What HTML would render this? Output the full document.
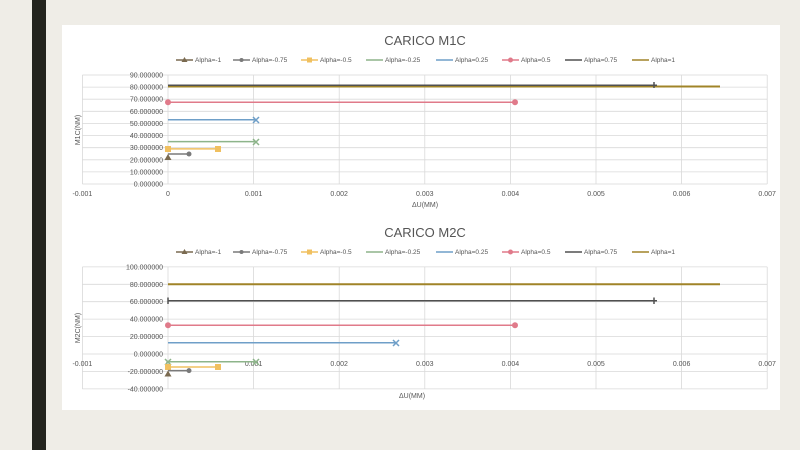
<!DOCTYPE html>
<html><head><meta charset="utf-8"><style>
html,body{margin:0;padding:0;width:800px;height:450px;overflow:hidden;background:#efede7;}
svg{display:block;font-family:"Liberation Sans",sans-serif;}
</style></head><body>
<svg width="800" height="450" viewBox="0 0 800 450">
<rect x="0" y="0" width="800" height="450" fill="#efede7"/>
<rect x="32" y="0" width="14" height="450" fill="#23241e"/>
<rect x="62" y="25" width="718" height="385" fill="#ffffff"/>

<!-- Chart 1 -->
<text x="425" y="45" font-size="13" text-anchor="middle" fill="#555">CARICO M1C</text>
<g font-size="6.5" fill="#555">
<line x1="176" y1="60" x2="193" y2="60" stroke="#7a6a50" stroke-width="1.5"/><path d="M184.5 57 l3 5 h-6z" fill="#7a6a50"/><text x="195" y="62">Alpha=-1</text>
<line x1="233" y1="60" x2="250" y2="60" stroke="#7a7a7a" stroke-width="1.5"/><circle cx="241.5" cy="60" r="2" fill="#7a7a7a"/><text x="252" y="62">Alpha=-0.75</text>
<line x1="301" y1="60" x2="318" y2="60" stroke="#f0c060" stroke-width="1.5"/><rect x="307" y="57.5" width="5" height="5" fill="#f0c060"/><text x="320" y="62">Alpha=-0.5</text>
<line x1="366" y1="60" x2="383" y2="60" stroke="#8db48a" stroke-width="1.5"/><text x="385" y="62">Alpha=-0.25</text>
<line x1="436" y1="60" x2="453" y2="60" stroke="#6f9fc8" stroke-width="1.5"/><text x="455" y="62">Alpha=0.25</text>
<line x1="502" y1="60" x2="519" y2="60" stroke="#e07a8a" stroke-width="1.5"/><circle cx="510.5" cy="60" r="2.5" fill="#e07a8a"/><text x="521" y="62">Alpha=0.5</text>
<line x1="565" y1="60" x2="582" y2="60" stroke="#505050" stroke-width="1.5"/><text x="584" y="62">Alpha=0.75</text>
<line x1="632" y1="60" x2="649" y2="60" stroke="#a08428" stroke-width="1.5"/><text x="651" y="62">Alpha=1</text>
</g>
<g stroke="#d9d9d9" stroke-width="0.8">
<line x1="82.4" y1="75" x2="767.2" y2="75"/><line x1="82.4" y1="87.1" x2="767.2" y2="87.1"/><line x1="82.4" y1="99.2" x2="767.2" y2="99.2"/><line x1="82.4" y1="111.3" x2="767.2" y2="111.3"/><line x1="82.4" y1="123.5" x2="767.2" y2="123.5"/><line x1="82.4" y1="135.6" x2="767.2" y2="135.6"/><line x1="82.4" y1="147.7" x2="767.2" y2="147.7"/><line x1="82.4" y1="159.8" x2="767.2" y2="159.8"/><line x1="82.4" y1="171.9" x2="767.2" y2="171.9"/><line x1="82.4" y1="184" x2="767.2" y2="184"/>
<line x1="82.4" y1="75" x2="82.4" y2="184"/><line x1="168" y1="75" x2="168" y2="184"/><line x1="253.6" y1="75" x2="253.6" y2="184"/><line x1="339.2" y1="75" x2="339.2" y2="184"/><line x1="424.8" y1="75" x2="424.8" y2="184"/><line x1="510.4" y1="75" x2="510.4" y2="184"/><line x1="596" y1="75" x2="596" y2="184"/><line x1="681.6" y1="75" x2="681.6" y2="184"/><line x1="767.2" y1="75" x2="767.2" y2="184"/>
</g>
<g font-size="7" fill="#555" text-anchor="end">
<text x="163" y="77.5">90.000000</text><text x="163" y="89.6">80.000000</text><text x="163" y="101.7">70.000000</text><text x="163" y="113.8">60.000000</text><text x="163" y="126">50.000000</text><text x="163" y="138.1">40.000000</text><text x="163" y="150.2">30.000000</text><text x="163" y="162.3">20.000000</text><text x="163" y="174.4">10.000000</text><text x="163" y="186.5">0.000000</text>
</g>
<g font-size="7" fill="#555" text-anchor="middle">
<text x="82.4" y="196">-0.001</text><text x="168" y="196">0</text><text x="253.6" y="196">0.001</text><text x="339.2" y="196">0.002</text><text x="424.8" y="196">0.003</text><text x="510.4" y="196">0.004</text><text x="596" y="196">0.005</text><text x="681.6" y="196">0.006</text><text x="767.2" y="196">0.007</text>
<text x="425" y="207">ΔU(MM)</text>
<text transform="translate(80,130) rotate(-90)">M1C(NM)</text>
</g>
<g stroke-width="1.5">
<line x1="168" y1="86.5" x2="720" y2="86.5" stroke="#a08428" stroke-width="2"/>
<line x1="168" y1="85.3" x2="654" y2="85.3" stroke="#505050"/><path d="M654 82v6M651 85.3h6" stroke="#505050"/>
<line x1="168" y1="102.3" x2="515" y2="102.3" stroke="#e07a8a"/><circle cx="168" cy="102.3" r="3" fill="#e07a8a"/><circle cx="515" cy="102.3" r="3" fill="#e07a8a"/>
<line x1="168" y1="119.8" x2="256" y2="119.8" stroke="#6f9fc8"/><path d="M253 117l6 6M259 117l-6 6" stroke="#6f9fc8"/>
<line x1="168" y1="141.6" x2="256" y2="141.6" stroke="#8db48a"/><path d="M253 139l6 6M259 139l-6 6" stroke="#8db48a"/>
<line x1="168" y1="148.9" x2="218" y2="148.9" stroke="#f0c060"/><rect x="165" y="146" width="6" height="6" fill="#f0c060"/><rect x="215" y="146" width="6" height="6" fill="#f0c060"/>
<line x1="168" y1="154" x2="189" y2="154" stroke="#7a7a7a"/><circle cx="189" cy="154" r="2.5" fill="#7a7a7a"/>
<path d="M168 154 l3.5 6 h-7z" fill="#7a6a50"/>
</g>

<!-- Chart 2 -->
<text x="425" y="237" font-size="13" text-anchor="middle" fill="#555">CARICO M2C</text>
<g font-size="6.5" fill="#555">
<line x1="176" y1="252" x2="193" y2="252" stroke="#7a6a50" stroke-width="1.5"/><path d="M184.5 249 l3 5 h-6z" fill="#7a6a50"/><text x="195" y="254">Alpha=-1</text>
<line x1="233" y1="252" x2="250" y2="252" stroke="#7a7a7a" stroke-width="1.5"/><circle cx="241.5" cy="252" r="2" fill="#7a7a7a"/><text x="252" y="254">Alpha=-0.75</text>
<line x1="301" y1="252" x2="318" y2="252" stroke="#f0c060" stroke-width="1.5"/><rect x="307" y="249.5" width="5" height="5" fill="#f0c060"/><text x="320" y="254">Alpha=-0.5</text>
<line x1="366" y1="252" x2="383" y2="252" stroke="#8db48a" stroke-width="1.5"/><text x="385" y="254">Alpha=-0.25</text>
<line x1="436" y1="252" x2="453" y2="252" stroke="#6f9fc8" stroke-width="1.5"/><text x="455" y="254">Alpha=0.25</text>
<line x1="502" y1="252" x2="519" y2="252" stroke="#e07a8a" stroke-width="1.5"/><circle cx="510.5" cy="252" r="2.5" fill="#e07a8a"/><text x="521" y="254">Alpha=0.5</text>
<line x1="565" y1="252" x2="582" y2="252" stroke="#505050" stroke-width="1.5"/><text x="584" y="254">Alpha=0.75</text>
<line x1="632" y1="252" x2="649" y2="252" stroke="#a08428" stroke-width="1.5"/><text x="651" y="254">Alpha=1</text>
</g>
<g stroke="#d9d9d9" stroke-width="0.8">
<line x1="82.4" y1="266.9" x2="767.2" y2="266.9"/><line x1="82.4" y1="284.3" x2="767.2" y2="284.3"/><line x1="82.4" y1="301.7" x2="767.2" y2="301.7"/><line x1="82.4" y1="319.1" x2="767.2" y2="319.1"/><line x1="82.4" y1="336.6" x2="767.2" y2="336.6"/><line x1="82.4" y1="354" x2="767.2" y2="354"/><line x1="82.4" y1="371.4" x2="767.2" y2="371.4"/><line x1="82.4" y1="388.9" x2="767.2" y2="388.9"/>
<line x1="82.4" y1="266.9" x2="82.4" y2="388.9"/><line x1="168" y1="266.9" x2="168" y2="388.9"/><line x1="253.6" y1="266.9" x2="253.6" y2="388.9"/><line x1="339.2" y1="266.9" x2="339.2" y2="388.9"/><line x1="424.8" y1="266.9" x2="424.8" y2="388.9"/><line x1="510.4" y1="266.9" x2="510.4" y2="388.9"/><line x1="596" y1="266.9" x2="596" y2="388.9"/><line x1="681.6" y1="266.9" x2="681.6" y2="388.9"/><line x1="767.2" y1="266.9" x2="767.2" y2="388.9"/>
</g>
<g font-size="7" fill="#555" text-anchor="end">
<text x="163" y="269.4">100.000000</text><text x="163" y="286.8">80.000000</text><text x="163" y="304.2">60.000000</text><text x="163" y="321.6">40.000000</text><text x="163" y="339.1">20.000000</text><text x="163" y="356.5">0.000000</text><text x="163" y="373.9">-20.000000</text><text x="163" y="391.4">-40.000000</text>
</g>
<g font-size="7" fill="#555" text-anchor="middle">
<text x="82.4" y="366">-0.001</text><text x="168" y="366">0</text><text x="253.6" y="366">0.001</text><text x="339.2" y="366">0.002</text><text x="424.8" y="366">0.003</text><text x="510.4" y="366">0.004</text><text x="596" y="366">0.005</text><text x="681.6" y="366">0.006</text><text x="767.2" y="366">0.007</text>
<text x="412" y="398">ΔU(MM)</text>
<text transform="translate(80,328) rotate(-90)">M2C(NM)</text>
</g>
<g stroke-width="1.5">
<line x1="168" y1="284.3" x2="720" y2="284.3" stroke="#a08428" stroke-width="2"/>
<line x1="168" y1="300.8" x2="654" y2="300.8" stroke="#505050"/><path d="M654 297.5v6.5M651 300.8h6M168 297.5v6.5" stroke="#505050"/>
<line x1="168" y1="325.2" x2="515" y2="325.2" stroke="#e07a8a"/><circle cx="168" cy="325.2" r="3" fill="#e07a8a"/><circle cx="515" cy="325.2" r="3" fill="#e07a8a"/>
<line x1="168" y1="342.7" x2="396" y2="342.7" stroke="#6f9fc8"/><path d="M393 340l6 6M399 340l-6 6" stroke="#6f9fc8"/>
<line x1="168" y1="361.8" x2="256" y2="361.8" stroke="#8db48a"/><path d="M253 359l6 6M259 359l-6 6M165 359l6 6M171 359l-6 6" stroke="#8db48a"/>
<line x1="168" y1="367" x2="218" y2="367" stroke="#f0c060"/><rect x="165" y="364" width="6" height="6" fill="#f0c060"/><rect x="215" y="364" width="6" height="6" fill="#f0c060"/>
<line x1="168" y1="370.6" x2="189" y2="370.6" stroke="#7a7a7a"/><circle cx="189" cy="370.6" r="2.5" fill="#7a7a7a"/>
<path d="M168 370.5 l3.5 6 h-7z" fill="#7a6a50"/>
</g>
</svg>
</body></html>
